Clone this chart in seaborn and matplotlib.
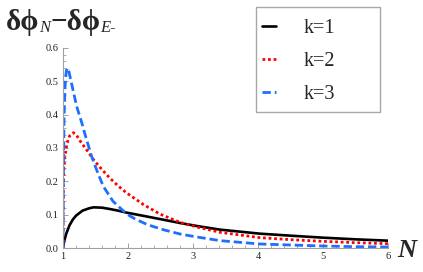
import numpy as np
import pandas as pd
import matplotlib
matplotlib.use('Agg')
import matplotlib.pyplot as plt
import seaborn as sns
from matplotlib.ticker import MultipleLocator
from matplotlib.patches import Rectangle

# values
n_k1 = [1.0, 1.01, 1.02, 1.05, 1.1, 1.15, 1.2, 1.3, 1.4, 1.47, 1.6, 1.72, 1.85, 1.98, 2.25, 2.54, 2.8, 3.06, 3.42, 4.03, 4.5, 5.0, 5.5, 6.0]
y_k1 = [0.0, 0.012, 0.022, 0.043, 0.068, 0.085, 0.097, 0.112, 0.119, 0.122, 0.121, 0.117, 0.112, 0.106, 0.096, 0.085, 0.075, 0.066, 0.055, 0.043, 0.037, 0.031, 0.026, 0.022]

n_k2 = [1.0, 1.005, 1.015, 1.03, 1.06, 1.1, 1.16, 1.21, 1.26, 1.38, 1.47, 1.6, 1.72, 1.85, 1.98, 2.24, 2.49, 2.8, 3.06, 3.42, 4.03, 4.5, 5.0, 5.5, 6.0]
y_k2 = [0.0, 0.185, 0.24, 0.275, 0.313, 0.336, 0.346, 0.338, 0.322, 0.29, 0.265, 0.235, 0.21, 0.186, 0.165, 0.13, 0.102, 0.077, 0.063, 0.047, 0.031, 0.025, 0.02, 0.016, 0.013]

n_k3 = [1.0, 1.005, 1.015, 1.03, 1.05, 1.066, 1.09, 1.13, 1.21, 1.29, 1.34, 1.44, 1.53, 1.62, 1.77, 1.98, 2.11, 2.3, 2.54, 2.8, 3.06, 3.42, 4.03, 4.5, 5.0, 5.5, 6.0]
y_k3 = [0.0, 0.2, 0.38, 0.48, 0.53, 0.54, 0.53, 0.495, 0.425, 0.375, 0.34, 0.275, 0.228, 0.185, 0.14, 0.102, 0.087, 0.07, 0.055, 0.042, 0.033, 0.022, 0.012, 0.009, 0.006, 0.004, 0.003]

labels = ['k=1', 'k=2', 'k=3']
colors = ['black', '#ff0000', '#1f6fff']

df = pd.concat([
    pd.DataFrame({'N': n_k1, 'val': y_k1, 'k': labels[0]}),
    pd.DataFrame({'N': n_k2, 'val': y_k2, 'k': labels[1]}),
    pd.DataFrame({'N': n_k3, 'val': y_k3, 'k': labels[2]}),
])

sns.set_style('white')
serif = ['Liberation Serif', 'DejaVu Serif']
plt.rcParams['font.family'] = serif

W, H = 423, 272
fig = plt.figure(figsize=(W / 100, H / 100), dpi=100)
ax = fig.add_axes([63 / W, 1 - 248 / H, 325 / W, 200 / H])

styles = {
    'k=1': dict(lw=1.9),
    'k=2': dict(lw=2.0, dashes=(1.0, 1.0)),
    'k=3': dict(lw=2.0, dashes=(3.0, 1.4)),
}
for lab, col in zip(labels, colors):
    sub = df[df['k'] == lab]
    sns.lineplot(data=sub, x='N', y='val', color=col, ax=ax, label=lab,
                 estimator=None, **styles[lab])

ax.set_xlim(1, 6)
ax.set_ylim(0, 0.6)
ax.set_xlabel('')
ax.set_ylabel('')
ax.xaxis.set_major_locator(MultipleLocator(1))
ax.xaxis.set_minor_locator(MultipleLocator(0.2))
ax.yaxis.set_major_locator(MultipleLocator(0.1))
ax.yaxis.set_minor_locator(MultipleLocator(0.02))
ax.yaxis.set_major_formatter(matplotlib.ticker.FormatStrFormatter('%.1f'))
ax.tick_params(which='both', direction='in', color='#a0a0a0', labelsize=7.5,
               labelcolor='#222222')
ax.tick_params(which='major', length=3.5, width=0.7, pad=3)
ax.tick_params(which='minor', length=2, width=0.6)
ax.tick_params(axis='x', which='both', bottom=True)
ax.tick_params(axis='y', which='both', left=True)
for s in ['top', 'right']:
    ax.spines[s].set_visible(False)
for s in ['left', 'bottom']:
    ax.spines[s].set_color('#a0a0a0')
    ax.spines[s].set_linewidth(0.8)

leg = ax.legend(loc='upper left', bbox_to_anchor=(256 / W, 1 - 13 / H),
                bbox_transform=fig.transFigure, fontsize=14.5, handlelength=0.7,
                handletextpad=1.35, labelspacing=0.68, borderpad=0.3,
                frameon=False, borderaxespad=0)
fig.patches.append(Rectangle((255.5 / W, 1 - 111.5 / H), 124.5 / W, 104.5 / H,
                             transform=fig.transFigure, fill=False,
                             edgecolor='#a8a8a8', linewidth=1.0))

# title pieces, placed one after another
renderer = fig.canvas.get_renderer()
pieces = [
    ('δϕ', dict(fontsize=21, fontweight='bold'), 30),
    ('N', dict(fontsize=12, style='italic'), 32),
    ('−δϕ', dict(fontsize=21, fontweight='bold'), 30),
    ('E-', dict(fontsize=12, style='italic'), 32),
]
x = 6 / W
for txt, kw, base in pieces:
    t = fig.text(x, 1 - base / H, txt, family=serif, va='baseline', **kw)
    bb = t.get_window_extent(renderer)
    x = bb.x1 / fig.bbox.width

fig.text(397 / W, 1 - 257 / H, 'N', fontsize=19, fontweight='bold',
         style='italic', family=serif, va='baseline')

fig.savefig('out.png', dpi=100)
